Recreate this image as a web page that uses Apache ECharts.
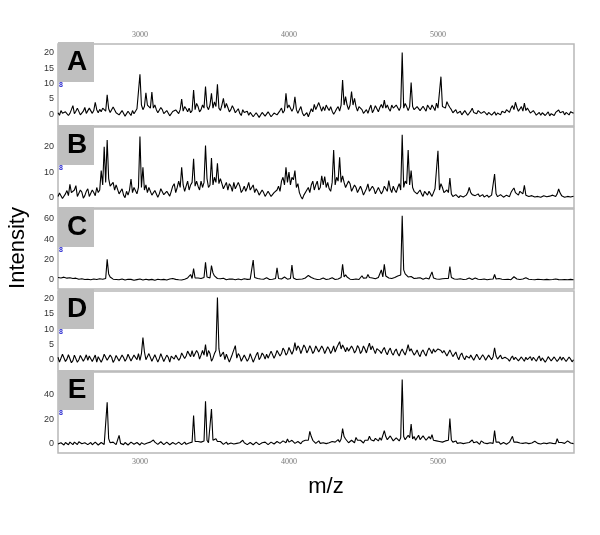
<!DOCTYPE html>
<html>
<head>
<meta charset="utf-8">
<script src="https://cdn.jsdelivr.net/npm/echarts@6/dist/echarts.min.js"></script>
<style>html,body{margin:0;padding:0;background:#fff;}#c{width:600px;height:535px;}</style>
</head>
<body>
<div id="c"></div>
<script>
// Samples: "base" at m/z 2450 + 20*i, "mid" at m/z 2460 + 20*k, peak tops listed as [m/z, intensity]
const mzStart = 2450;
const mzStep = 20;
const mzTicks = [3000, 4000, 5000];
const panelLabels = ['A', 'B', 'C', 'D', 'E'];

const baseA = [
  0.5, 1.2, -0.2, 1.0, 0.3, 2.8, 1.0, 1.6, 0.4, 2.2,
  0.8, 1.5, 1.2, 1.5, 1.6, 2.0, 1.0, 1.8, 1.2, 2.0,
  1.0, 0.3, 0.6, -0.3, 0.5, 1.2, 0.8, 1.5, 3.0, 2.5,
  3.0, 2.0, 2.0, 1.5, 1.0, 1.5, 0.3, 0.8, -0.2, 0.5,
  1.0, 1.5, 1.0, 1.8, 2.0, 1.2, 1.5, 2.5, 1.5, 2.0,
  2.5, 3.0, 2.0, 2.5, 2.0, 3.0, 2.0, 2.2, 1.5, 1.8,
  1.0, 0.3, 1.5, 0.2, -0.3, 0.8, -0.5, 0.3, -0.8, 0.2,
  -0.3, 0.5, -0.6, 1.0, 0.2, 2.0, 1.2, 2.0, 3.6, 2.0,
  1.5, 1.5, 0.5, -0.3, -0.8, 1.8, 3.2, 2.0, 3.5, 2.5,
  3.0, 1.2, 1.0, 0.8, 2.5, 3.0, 3.0, 3.0, 3.0, 3.0,
  2.5, 2.5, 1.5, 0.8, 0.3, 3.0, 1.5, 1.8, 2.2, 2.0,
  2.0, 1.8, 3.0, 1.5, 2.5, 2.5, 2.0, 2.5, 2.5, 2.5,
  1.5, 2.8, 1.2, 2.0, 3.0, 1.5, 2.2, 3.6, 2.5, 2.5,
  2.0, 3.0, 1.5, 0.8, 0.3, 1.0, 0.2, 0.6, 0.3, 2.0,
  0.8, 1.2, 0.3, 0.9, -0.2, 0.6, 0.2, -0.3, 0.5, 1.0,
  0.5, 1.2, 2.0, 1.5, 2.2, 1.5, 1.0, 1.2, 1.2, 0.8,
  0.5, 0.0, -0.3, 0.4, 0.2, -0.5, 0.3, 0.6, 1.4, 0.4, -0.2, 0.5, 0.8, 0.3
];
const midA = [
  -0.3, 0.3, 0.8, -0.4, 1.5, 0.2, 2.0, -0.2, 1.0, 0.3,
  2.0, 0.3, 2.3, 0.5, 0.8, 2.6, 0.2, 0.6, 2.4, 0.5,
  -0.2, 1.2, -0.6, 1.0, -0.4, 0.2, 1.8, null, 1.5, null,
  3.0, null, 3.0, 0.5, 2.2, 0.2, 1.2, -0.5, 0.9, 1.4,
  0.2, null, 2.5, 0.8, 0.5, null, 3.5, 0.8, 3.0, null,
  1.5, null, 4.0, null, 1.2, null, 3.5, 0.8, 2.8, 0.5,
  1.8, -0.4, 0.6, 1.0, 0.6, -0.8, 0.5, -1.0, 0.6, -0.6,
  0.8, -0.8, 0.4, -0.2, 1.2, 0.4, null, 3.0, 1.0, null,
  0.3, 2.5, -0.5, 0.5, 0.5, 0.8, 1.5, 3.8, 1.0, 1.2,
  2.0, 2.5, 0.0, 1.8, 1.0, null, null, 1.5, null, null,
  1.0, 3.0, 0.3, 1.5, 1.8, 0.5, 2.8, 0.8, 3.2, null,
  3.0, 1.0, 2.0, 3.0, 1.2, null, 3.5, 1.2, null, 1.5,
  2.5, 1.2, 2.6, 1.0, 2.2, 3.0, 1.2, 2.0, null, null,
  1.2, 2.2, 0.5, 1.5, 0.8, -0.2, 1.2, -0.3, 1.0, 0.6,
  0.2, 1.5, -0.2, 0.5, 0.6, -0.3, 0.8, 0.4, -0.2, 0.4,
  1.5, 0.6, 2.8, null, 1.0, 2.5, null, 2.0, 0.4, 1.2,
  -0.3, 0.6, 0.5, -0.4, 0.8, 0.2, -0.4, 1.0, 0.5, 0.9, 0.6, -0.2, 1.0
];
const peaksA = [
  [2700, 3.9], [2780, 6.3], [3000, 13.0], [3040, 7.0], [3080, 7.2], [3280, 4.9],
  [3360, 7.9], [3440, 9.0], [3480, 6.8], [3520, 9.7], [3560, 5.2], [3980, 6.8],
  [4040, 5.7], [4360, 11.1], [4380, 5.7], [4420, 7.4], [4440, 5.2], [4640, 4.6],
  [4760, 20.0], [4820, 10.3], [5020, 12.2], [5060, 4.1], [5520, 3.9], [5580, 3.6]
];

const baseB = [
  0.5, 1.5, 0.2, 2.8, 5.2, 1.5, 4.7, 1.0, 2.2, 0.8,
  3.5, 1.2, 2.0, 4.0, 3.0, 5.0, 6.0, 7.5, 4.0, 3.0,
  4.5, 2.0, 1.0, 2.5, 3.0, 2.0, 3.5, 4.0, 4.0, 3.0,
  2.0, 3.5, 0.8, 2.5, 1.5, 3.0, 0.5, 1.8, 2.5, 5.5,
  4.0, 4.0, 5.0, 4.5, 3.0, 6.0, 4.5, 4.5, 6.5, 6.0,
  7.5, 5.0, 5.0, 6.0, 5.5, 5.5, 4.0, 3.0, 4.5, 6.0,
  3.5, 4.5, 3.0, 2.5, 6.0, 3.5, 2.0, 2.5, 1.5, 2.0,
  1.0, 2.0, 0.8, 1.5, 4.5, 6.5, 5.0, 6.0, 5.0, 7.0,
  4.0, 2.0, -0.5, 1.5, 4.0, 5.0, 3.0, 6.5, 4.0, 5.0,
  4.0, 3.5, 6.0, 5.0, 6.5, 6.0, 6.0, 3.5, 5.5, 3.0,
  4.0, 2.5, 3.0, 1.5, 5.4, 2.5, 3.5, 2.0, 4.0, 2.5,
  3.5, 6.7, 2.0, 3.0, 4.0, 3.0, 4.0, 5.5, 5.0, 4.0,
  3.0, 2.0, 1.5, 2.5, 1.0, 1.5, 2.0, 3.0, 3.0, 4.0,
  2.0, 2.0, 1.5, 0.8, 0.5, 0.8, 0.3, 1.0, 4.0, 1.2,
  0.8, 1.5, 0.5, 0.3, 1.0, 0.2, 1.0, 1.5, 0.5, 1.0,
  0.3, 1.2, 2.0, 3.8, 1.5, 2.5, 1.5, 1.0, 0.5, 0.8,
  0.3, 0.5, 0.2, 0.8, 0.4, 0.6, 1.0, 0.5, 3.4, 0.8, 0.2, 0.5, 0.3, 0.6
];
const midB = [
  1.8, -0.3, 1.5, 0.8, 2.0, 3.0, 0.5, 3.0, -0.2, 2.5,
  0.5, 3.0, 0.8, 2.0, null, null, null, 4.5, null, 5.0,
  1.5, 3.5, 0.0, 1.0, null, 4.0, 1.5, null, null, 5.0,
  4.0, 1.0, 2.8, 0.2, 3.5, 1.2, 2.5, 0.6, 4.5, 2.0,
  6.5, null, 2.5, 6.5, 5.0, null, 6.5, 3.0, 4.0, null,
  4.0, null, 8.0, null, 7.5, 3.5, 6.0, 5.5, 2.5, 3.5,
  6.0, 2.0, 4.5, 4.0, 3.0, 5.0, 3.5, 1.0, 3.0, 0.5,
  2.5, 0.5, 2.0, 3.0, 2.5, 8.0, null, null, 8.0, null,
  5.5, 0.5, 1.0, 3.0, 2.0, 6.5, 5.0, 3.0, null, null,
  6.0, 2.5, null, 8.0, null, 8.5, 4.0, 6.5, 2.5, 5.0,
  2.0, 4.5, 1.0, 3.5, 2.5, 4.5, 1.5, 4.0, 1.5, 4.5,
  2.5, 3.5, 4.5, 2.0, 5.5, null, 6.5, null, null, 2.5,
  1.5, 3.0, 0.5, 2.0, 2.5, 0.5, 3.5, null, 5.5, 2.0,
  3.0, null, 0.5, 1.2, 0.0, 1.0, 0.8, 2.0, 2.0, 0.5,
  1.5, 0.5, 1.2, 0.8, 0.2, 1.0, null, 0.4, 1.2, 0.2,
  1.0, 0.4, 3.0, 2.0, 1.0, 1.8, null, 0.3, 1.2, 0.2,
  0.8, 0.0, 0.6, 0.2, 1.0, 0.2, 0.4, 1.5, 1.8, 0.3, 0.7, 0.0, 0.9
];
const peaksB = [
  [2740, 10.6], [2760, 20.0], [2780, 22.6], [2820, 6.0], [2940, 7.3], [3000, 24.0],
  [3020, 11.9], [3280, 11.9], [3360, 15.2], [3440, 20.4], [3480, 15.5], [3520, 13.5],
  [3980, 11.9], [4000, 10.0], [4040, 10.6], [4220, 8.6], [4240, 8.3], [4300, 18.7],
  [4340, 15.8], [4760, 24.7], [4800, 18.7], [4820, 10.6], [5000, 18.4], [5080, 7.7],
  [5380, 9.3], [5580, 4.8]
];

const baseC = [
  2.5, 2.0, 2.8, 1.8, 2.2, 1.5, 1.8, 0.8, 1.2, 0.5,
  0.8, 0.3, 1.0, 0.5, 1.2, 0.8, 1.5, 6.0, 2.0, 1.5,
  1.0, 0.5, 0.8, 0.3, 0.0, 0.5, 1.2, 0.3, 0.8, 0.2,
  0.6, 0.0, 0.5, 0.2, 0.8, 0.0, 0.5, 0.3, 0.8, 3.2,
  0.5, 0.8, 0.3, 1.0, 1.5, 1.5, 2.0, 2.0, 1.5, 2.5,
  3.0, 2.0, 7.0, 3.0, 2.5, 1.0, 0.8, 2.2, 0.5, 0.8,
  0.3, 0.8, 0.5, 1.0, 1.5, 1.0, 2.5, 1.5, 1.0, 0.8,
  2.2, 0.5, 0.8, 1.5, 1.5, 1.0, 3.0, 0.8, 1.5, 2.0,
  0.5, 0.8, 1.0, 2.0, 4.5, 2.5, 1.2, 0.5, 0.8, 2.0,
  0.5, 1.0, 2.2, 0.5, 1.0, 2.5, 3.0, 3.0, 0.8, 0.5,
  1.0, 0.5, 4.2, 1.0, 5.4, 1.2, 3.0, 1.5, 2.5, 3.0,
  4.0, 2.0, 1.5, 2.5, 4.0, 5.0, 10.0, 4.5, 2.5, 2.0,
  2.5, 1.5, 1.8, 1.0, 1.5, 1.5, 2.0, 1.0, 0.8, 1.2,
  1.5, 1.5, 2.5, 1.0, 0.8, 1.2, 0.5, 0.8, 2.0, 0.5,
  2.0, 0.8, 0.5, 1.0, 0.3, 0.8, 1.0, 1.0, 1.5, 0.8,
  0.5, 0.8, 0.3, 3.2, 1.0, 0.5, 1.0, 2.2, 0.8, 0.5,
  0.3, 0.8, 0.5, 0.2, 0.6, 0.3, 0.5, 1.0, 0.4, 0.2, 0.5, 0.3, 0.6, 0.2
];
const midC = [
  1.6, 2.6, 1.5, 2.5, 1.2, 2.2, 1.0, 1.5, 0.2, 1.2,
  0.0, 0.9, 0.2, 1.0, 0.3, 1.4, null, 3.0, 0.8, 0.5,
  0.2, 1.0, 0.0, 0.7, 0.6, -0.2, 0.4, 0.9, 0.0, 0.8,
  0.1, 0.6, -0.2, 0.8, 0.2, 0.6, 0.0, 0.9, 1.5, 0.6,
  0.2, 0.0, 0.8, 2.0, null, null, 1.0, 3.0, 0.8, null,
  1.5, null, 4.0, 1.5, 1.2, 1.8, 0.3, 1.0, 0.9, 0.2,
  1.0, 0.2, 1.2, 0.6, 0.8, null, 1.5, 0.6, 1.5, 0.3,
  0.8, 1.2, 0.2, null, 2.5, 0.5, 1.2, 0.4, null, 1.0,
  1.2, 0.3, 1.5, 3.0, 3.5, 1.5, 0.5, 1.2, 1.5, 0.6,
  0.8, 1.8, 0.8, 1.2, 1.8, null, 5.0, 1.5, 1.2, 0.2,
  0.4, 1.5, 1.8, 2.0, 2.5, 2.0, 1.2, 2.5, null, null,
  2.5, 3.0, 2.0, 1.5, 3.0, null, 6.0, 3.0, 3.5, 1.5,
  1.8, 2.2, 0.8, 2.0, 1.0, null, 1.2, 1.5, 1.5, 0.6,
  0.8, null, 1.5, 1.5, 0.4, 0.8, 1.0, 1.4, 1.0, 1.2,
  1.2, 0.3, 1.2, 0.5, 0.9, 0.4, null, 2.0, 0.6, 1.2,
  1.0, 0.4, 1.0, 2.0, 0.4, 1.0, 1.5, 1.2, 0.3, 1.0,
  0.8, 0.2, 0.9, 0.6, 0.1, 0.9, 0.0, 0.5, 0.8, 0.6, 0.0, 0.9, 0.1
];
const peaksC = [
  [2780, 20.3], [3340, 5.4], [3360, 11.1], [3440, 17.4], [3480, 14.1], [3760, 19.7],
  [3920, 12.0], [4020, 14.8], [4360, 15.3], [4620, 9.9], [4640, 15.3], [4760, 63.2],
  [4960, 8.0], [5080, 13.1], [5380, 5.4]
];

const baseD = [
  0.8, -0.5, 1.5, 0.2, 1.2, -0.3, 1.0, 0.0, 1.8, 0.4,
  -0.2, 1.3, 0.5, -0.8, 1.0, 0.2, 1.5, -0.4, 0.8, 0.0,
  1.2, -0.6, 0.7, 0.3, 1.5, -0.2, 0.9, 2.0, 2.0, 2.6,
  0.5, 1.5, -0.3, 1.0, 0.4, 1.8, -0.5, 0.8, 1.2, 0.2,
  1.5, 0.5, 2.0, 1.2, 2.5, 3.0, 1.0, 2.2, 1.5, 1.5,
  1.0, 2.0, 0.5, 3.0, 3.5, 1.2, 0.0, 1.5, -0.5, 1.5,
  0.5, 1.2, -0.8, 1.0, 0.3, 1.5, -0.3, 2.4, 0.8, 1.5,
  1.8, 1.0, 2.5, 1.5, 2.8, 2.0, 3.0, 2.2, 3.5, 3.0,
  3.0, 3.8, 2.5, 4.0, 3.2, 3.5, 2.8, 4.2, 3.0, 3.6,
  2.6, 3.4, 3.0, 2.5, 3.2, 3.5, 3.8, 4.0, 3.2, 3.6,
  3.0, 3.8, 2.8, 3.5, 4.0, 3.2, 3.2, 3.6, 2.8, 3.2,
  2.5, 3.0, 2.2, 2.8, 2.0, 2.6, 2.4, 3.0, 2.8, 2.5,
  2.2, 1.8, 2.5, 2.0, 2.8, 3.0, 3.5, 2.5, 4.1, 2.2,
  2.6, 1.8, 2.9, 1.5, 1.0, 1.5, 0.8, 1.2, 0.5, 1.0,
  0.8, 1.2, 0.5, 0.9, 0.3, 1.0, 1.0, 1.2, 0.6, 0.3,
  0.8, 0.2, 0.5, 0.0, 0.6, -0.2, 0.4, 0.8, 0.1, -0.3,
  0.3, 0.5, -0.4, 0.2, 0.0, 0.6, -0.5, 0.3, 0.1, -0.2, 0.4, -0.6, 0.2, 0.0
];
const midD = [
  -0.8, 1.8, -0.6, 1.6, -1.0, 1.5, -0.8, 1.4, -0.5, 1.6,
  1.2, -0.6, 1.5, 1.0, -0.8, 1.8, -0.2, 1.5, -0.9, 1.4,
  -0.4, 1.5, -0.5, 1.8, -0.4, 1.5, 0.0, -0.2, null, 0.0,
  2.0, -0.5, 1.6, -0.8, 2.0, -0.6, 1.5, -0.8, 1.6, 1.5,
  -0.2, 2.2, 0.4, 2.8, 1.0, 1.0, 3.0, 0.2, 3.0, null,
  3.0, -0.5, 2.0, null, 1.0, 2.5, 1.8, -0.8, 1.8, null,
  2.0, -0.5, 1.5, -0.5, 2.0, -0.8, 1.5, 0.0, 2.2, 0.2,
  0.5, 2.8, 0.5, 3.0, 1.2, 3.8, 1.5, 4.0, 1.8, null,
  4.5, 2.0, 4.8, 2.2, 4.6, 2.0, 4.5, 2.5, 4.5, 2.0,
  4.2, 2.0, 4.5, 3.8, null, 4.8, 2.6, 2.8, 4.5, 2.2,
  4.6, 2.0, 4.5, 2.2, null, 4.5, 2.0, 4.2, 2.0, 4.0,
  1.6, 3.8, 1.5, 3.5, 1.2, 3.5, 1.5, null, 3.6, 1.5,
  3.2, 1.0, 3.2, 1.2, 3.8, 2.0, 2.5, 3.5, 3.0, 3.0,
  1.2, 3.2, 1.0, 2.5, 0.0, 2.2, 0.0, 1.8, 1.5, -0.2,
  1.8, 0.0, 1.6, -0.2, 1.5, 0.0, null, 0.2, 1.5, -0.3,
  1.2, -0.5, 1.2, 0.8, -0.4, 0.9, -0.5, 0.0, 1.0, 0.8,
  -0.5, 1.2, 0.6, -0.8, 1.0, -0.4, 0.9, -0.6, 1.0, 0.8, -0.6, 0.9, -0.7
];
const peaksD = [
  [3020, 7.2], [3440, 4.9], [3520, 20.3], [3640, 4.6], [4040, 5.6], [4340, 5.9],
  [4540, 5.4], [4800, 4.9], [5380, 3.9]
];

const baseE = [
  0.0, 1.0, -0.8, 0.5, 1.5, -0.5, 0.8, 1.8, 0.2, 1.0,
  -0.5, 1.2, 0.0, 0.8, -0.3, 0.5, 1.0, 4.3, 0.5, 0.5,
  1.0, 0.5, -0.5, 0.8, 0.0, 1.2, -0.5, 0.5, 1.0, -0.3,
  0.8, 1.5, 3.2, 1.0, 0.5, 1.5, 0.0, 0.8, -0.5, 1.0,
  0.2, 1.2, 0.5, -0.3, 0.8, 1.5, 2.0, 2.0, 1.5, 2.5,
  3.0, 1.5, 3.0, 4.3, 1.0, 0.5, 1.2, -0.3, 0.8, 0.0,
  0.5, 1.0, 3.0, 0.8, -0.5, 0.5, 0.0, 1.0, -0.3, 0.5,
  1.2, 0.0, 2.0, 1.0, 2.5, 1.5, 3.0, 4.0, 1.5, 2.5,
  0.8, 1.5, 2.0, 3.0, 3.0, 6.0, 2.0, 1.5, 0.5, 1.0,
  0.3, 1.0, 2.0, 1.5, 3.5, 4.0, 6.0, 3.0, 1.5, 2.5,
  5.3, 1.5, 2.0, 3.0, 3.0, 3.5, 2.5, 4.0, 5.0, 4.0,
  6.0, 4.5, 5.0, 3.0, 4.0, 5.0, 6.0, 5.0, 5.0, 4.0,
  3.0, 7.0, 4.0, 5.5, 4.5, 4.0, 3.0, 2.5, 2.0, 1.5,
  2.5, 3.0, 3.2, 1.5, 0.5, 1.0, 0.3, 0.8, 1.2, 3.2,
  0.5, 1.0, 2.5, 0.8, 0.3, 1.0, 0.5, 1.5, 1.5, 0.5,
  1.0, 0.3, 2.0, 1.5, 1.5, 0.8, 0.5, 1.0, 0.3, 0.8,
  2.2, 0.5, 0.0, 0.8, 0.3, 1.0, 0.5, 0.2, 1.2, 1.2, 0.5, 2.5, 0.8, 0.3
];
const midE = [
  1.5, -0.5, 1.2, -0.6, 0.6, 1.5, -0.4, 0.5, 1.5, -0.5,
  1.0, -0.6, 1.5, -0.8, 1.2, -0.4, null, 1.0, 1.5, -0.5,
  null, -0.6, 1.2, -0.8, 1.5, -0.2, 1.2, -0.8, 0.2, 1.2,
  -0.5, 2.5, 1.5, -0.3, 1.8, -0.5, 1.5, -0.6, 1.2, -0.3,
  1.5, -0.5, 1.5, 1.0, -0.2, null, 0.5, 3.0, 0.2, null,
  1.0, null, 1.5, 2.0, 2.0, -0.3, 1.5, 1.2, -0.5, 1.5,
  -0.5, 2.0, 1.0, -0.5, 1.2, -0.6, 1.5, -0.5, 1.0, 1.5,
  -0.5, 1.5, 0.0, 2.0, 0.5, 2.5, 1.0, 1.5, 3.0, 0.5,
  2.0, 0.2, 3.0, 1.5, null, 3.0, 0.5, 2.5, 1.5, -0.3,
  1.5, 0.5, 0.8, 2.8, 1.5, null, 4.0, 1.0, 3.0, 1.0,
  3.0, 3.0, 0.8, 4.0, null, 2.0, 4.5, 2.5, 3.0, null,
  3.5, 6.5, 2.5, 5.0, 2.5, null, 3.5, 7.0, null, 6.0,
  5.0, 3.5, 6.5, 3.0, 6.0, null, 4.5, 1.0, 3.5, 2.5,
  1.0, null, 1.5, 2.5, 1.5, -0.2, 1.5, -0.5, 2.0, 1.0,
  1.8, -0.3, 1.2, 2.0, -0.2, 1.5, null, 3.0, -0.2, 1.2,
  -0.2, 1.5, null, 2.5, 0.5, 1.8, -0.3, 1.5, 1.2, -0.2,
  1.0, 1.5, -0.6, 1.2, 1.0, -0.3, 1.5, null, 2.0, -0.3, 1.5, 1.2, -0.2
];
const peaksE = [
  [2780, 33.6], [2860, 7.0], [3360, 22.9], [3440, 34.4], [3480, 28.2], [4140, 10.2],
  [4360, 12.4], [4540, 6.2], [4640, 10.8], [4760, 51.9], [4820, 16.0], [4960, 7.5],
  [5080, 20.4], [5380, 10.8], [5500, 6.2], [5800, 4.3]
];

const yTicksA = [0, 5, 10, 15, 20];
const yTicksB = [0, 10, 20];
const yTicksC = [0, 20, 40, 60];
const yTicksD = [0, 5, 10, 15, 20];
const yTicksE = [0, 20, 40];

const allBase = [baseA, baseB, baseC, baseD, baseE];
const allMid = [midA, midB, midC, midD, midE];
const allPeaks = [peaksA, peaksB, peaksC, peaksD, peaksE];
const allTicks = [yTicksA, yTicksB, yTicksC, yTicksD, yTicksE];

// layout (pixels) and axis extents
const panels = [
  { top: 44, height: 82, ymin: -3.8, ymax: 22.8 },
  { top: 127, height: 81, ymin: -4.04, ymax: 27.7 },
  { top: 209, height: 80, ymin: -8.85, ymax: 69.8 },
  { top: 291, height: 80, ymin: -3.68, ymax: 22.4 },
  { top: 372, height: 81, ymin: -7.24, ymax: 57.9 }
];
const plotLeft = 58, plotRight = 26;
const xMin = 2450, xMax = 5913;

function buildData(base, mid, peaks) {
  const peakMz = new Set(peaks.map(p => p[0]));
  const pts = base.map((v, i) => [mzStart + i * mzStep, v]);
  mid.forEach((v, k) => {
    const mz = mzStart + mzStep / 2 + k * mzStep;
    if (v !== null && !peakMz.has(mz)) pts.push([mz, v]);
  });
  peaks.forEach(p => pts.push(p));
  pts.sort((a, b) => a[0] - b[0]);
  return pts;
}

const chart = echarts.init(document.getElementById('c'), null, { renderer: 'canvas' });

const graphics = [];
panels.forEach((p, k) => {
  graphics.push({
    type: 'rect', left: plotLeft, top: p.top - 2, z: 10,
    shape: { width: 36, height: 40 },
    style: { fill: '#bfbfbf' }
  });
  graphics.push({
    type: 'text', z: 11,
    x: plotLeft + 19, y: p.top + 18,
    style: {
      text: panelLabels[k], font: 'bold 28px "Liberation Sans", Arial, sans-serif',
      fill: '#000', align: 'center', verticalAlign: 'middle'
    }
  });
  graphics.push({
    type: 'text', z: 11,
    x: plotLeft + 3, y: p.top + 41,
    style: {
      text: '8', font: 'bold 7px "Liberation Sans", Arial, sans-serif',
      fill: '#2a2ad0', align: 'center', verticalAlign: 'middle'
    }
  });
});
graphics.push({
  type: 'text', x: 18, y: 248, rotation: Math.PI / 2,
  style: {
    text: 'Intensity', font: '22px "Liberation Sans", Arial, sans-serif',
    fill: '#000', align: 'center', verticalAlign: 'middle'
  }
});
graphics.push({
  type: 'text', x: 326, y: 487,
  style: {
    text: 'm/z', font: '22px "Liberation Sans", Arial, sans-serif',
    fill: '#000', align: 'center', verticalAlign: 'middle'
  }
});

const option = {
  animation: false,
  backgroundColor: '#fff',
  grid: panels.map(p => ({
    left: plotLeft, right: plotRight, top: p.top, height: p.height,
    show: true, borderColor: '#b8b8b8', borderWidth: 1.5, backgroundColor: 'transparent'
  })),
  xAxis: panels.map((p, k) => ({
    gridIndex: k, type: 'value', min: xMin, max: xMax,
    position: k === 0 ? 'top' : 'bottom',
    axisLine: { show: false }, axisTick: { show: false }, splitLine: { show: false },
    axisLabel: {
      show: k === 0 || k === 4, customValues: mzTicks, margin: 5,
      formatter: v => String(v),
      fontSize: 8, fontFamily: '"Liberation Serif", serif', color: '#777'
    }
  })),
  yAxis: panels.map((p, k) => ({
    gridIndex: k, type: 'value', min: p.ymin, max: p.ymax,
    axisLine: { show: false }, axisTick: { show: false }, splitLine: { show: false },
    axisLabel: {
      customValues: allTicks[k], margin: 4,
      formatter: v => String(v),
      fontSize: 9, fontFamily: '"Liberation Sans", Arial, sans-serif', color: '#333'
    }
  })),
  series: allBase.map((base, k) => ({
    type: 'line', xAxisIndex: k, yAxisIndex: k,
    data: buildData(base, allMid[k], allPeaks[k]),
    showSymbol: false, symbol: 'none',
    lineStyle: { color: '#000', width: 1.1 },
    clip: true
  })),
  graphic: graphics
};
chart.setOption(option);
</script>
</body>
</html>
